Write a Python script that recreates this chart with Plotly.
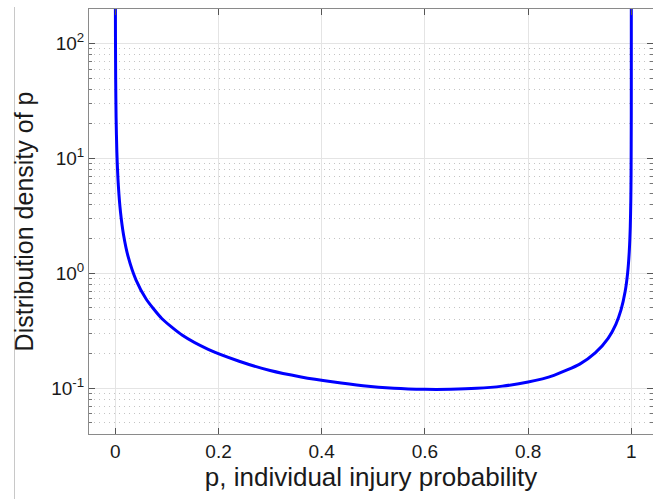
import plotly.graph_objects as go

# values read (and smoothed by eye) off the reference picture
p_values = [0.00015, 0.0003, 0.0007, 0.0015, 0.003, 0.006, 0.01, 0.016, 0.025,
            0.04, 0.06, 0.09, 0.13, 0.18, 0.24, 0.30, 0.36, 0.42, 0.48, 0.54,
            0.60, 0.65, 0.70, 0.75, 0.80, 0.85, 0.90, 0.93, 0.955, 0.97, 0.98,
            0.988, 0.993, 0.996, 0.998, 0.999, 0.9995, 0.9999, 0.99999, 0.999999]
density = [227, 113, 48.6, 22.7, 11.4, 5.70, 3.43, 2.16, 1.39,
           0.878, 0.595, 0.405, 0.289, 0.218, 0.172, 0.1427, 0.1256, 0.1139, 0.1052, 0.1000,
           0.0979, 0.0980, 0.0998, 0.1044, 0.1133, 0.1297, 0.1624, 0.2031, 0.2723, 0.3607, 0.481,
           0.694, 1.027, 1.549, 2.58, 4.30, 7.18, 23.6, 131, 717]

x_tick_vals = [0, 0.2, 0.4, 0.6, 0.8, 1]
x_tick_text = ["0", "0.2", "0.4", "0.6", "0.8", "1"]
y_tick_vals = [0.1, 1, 10, 100]
y_tick_text = ["10<sup>-1</sup>", "10<sup>0</sup>", "10<sup>1</sup>", "10<sup>2</sup>"]
y_minor_vals = [m * 10 ** e for e in (-2, -1, 0, 1, 2) for m in range(2, 10)]

FONT = "Liberation Sans, Arial, Helvetica, sans-serif"

fig = go.Figure()
fig.add_trace(go.Scatter(
    x=p_values, y=density, mode="lines",
    line=dict(color="#0000ff", width=3, shape="spline", smoothing=0.6),
    showlegend=False, hoverinfo="skip",
))

fig.update_layout(
    width=653, height=499,
    margin=dict(l=89, r=0, t=9, b=65),
    paper_bgcolor="white", plot_bgcolor="white",
    font=dict(family=FONT, color="#1a1a1a"),
    shapes=[dict(type="line", xref="paper", yref="paper",
                 x0=-0.1321, x1=-0.1321, y0=1.0047, y1=-0.16,
                 line=dict(color="#c8c8c8", width=1))],
)

fig.update_xaxes(
    range=[-0.051, 1.042],
    tickmode="array", tickvals=x_tick_vals, ticktext=x_tick_text,
    tickfont=dict(size=19, color="#1a1a1a"),
    ticks="inside", ticklen=6, tickcolor="#555555",
    showline=True, linecolor="#8a8a8a", linewidth=1, mirror="ticks",
    showgrid=True, gridcolor="#e4e4e4", gridwidth=1,
    zeroline=False,
    title=dict(text="p, individual injury probability",
               font=dict(size=26, color="#1a1a1a"), standoff=6),
)

fig.update_yaxes(
    type="log", range=[-1.398, 2.301],
    tickmode="array", tickvals=y_tick_vals, ticktext=y_tick_text,
    tickfont=dict(size=19, color="#1a1a1a"),
    ticks="inside", ticklen=6, tickcolor="#555555",
    showline=True, linecolor="#8a8a8a", linewidth=1, mirror="ticks",
    showgrid=True, gridcolor="#e4e4e4", gridwidth=1,
    zeroline=False,
    minor=dict(tickmode="array", tickvals=y_minor_vals, ticks="inside",
               ticklen=3, tickcolor="#777777", showgrid=True,
               gridcolor="#c4c4c4", griddash="1px,4px", gridwidth=1),
    title=dict(text="Distribution density of p",
               font=dict(size=25, color="#1a1a1a"), standoff=10),
)

fig.write_html("out.html")
